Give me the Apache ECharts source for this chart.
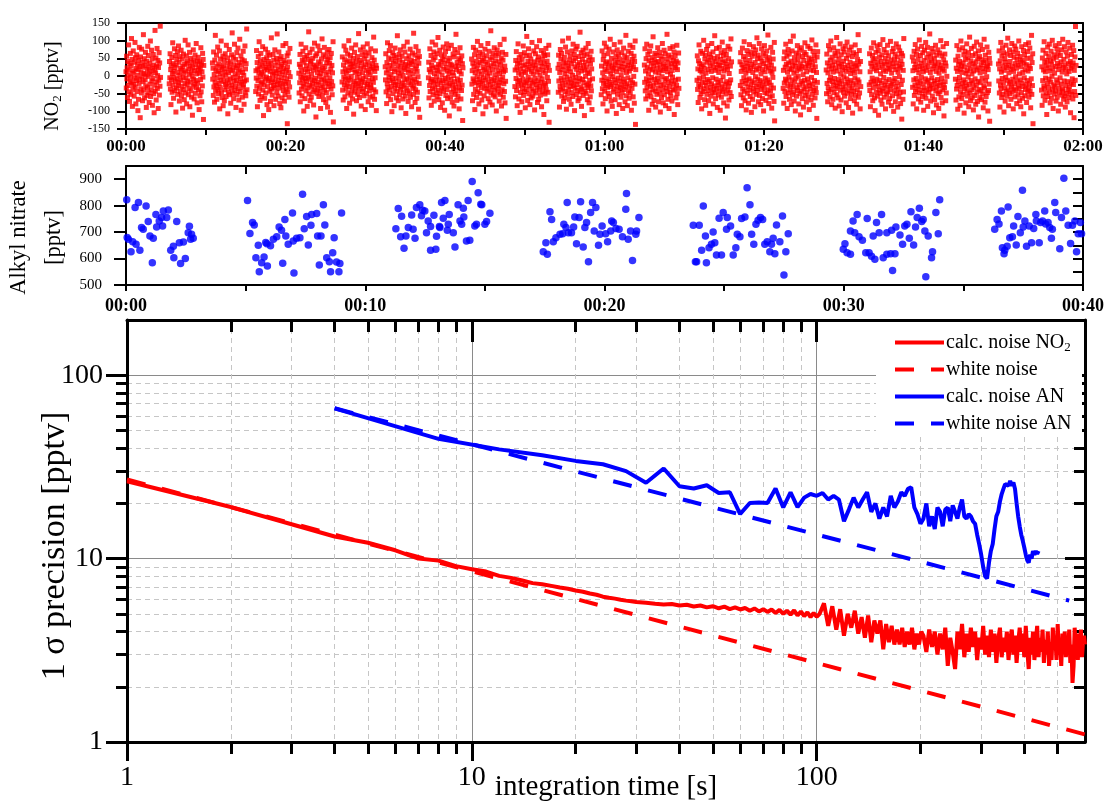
<!DOCTYPE html>
<html>
<head>
<meta charset="utf-8">
<script src="https://cdn.jsdelivr.net/npm/echarts@6/dist/echarts.min.js"></script>
<style>
  html, body { margin: 0; padding: 0; background: #fff; }
  #chart { width: 1107px; height: 803px; }
</style>
</head>
<body>
<div id="chart"></div>
<script>
// ---------- NO2 time series (bursts of 1-sigma noise around zero, minutes since 00:00) ----------
const no2BurstStart = [0, 5.42, 10.84, 16.26, 21.67, 27.09, 32.5, 37.92, 43.34, 48.76, 54.17,
  59.59, 65.0, 71.6, 77.0, 82.4, 87.8, 93.2, 98.6, 104.0, 109.4, 114.8];
const no2BurstLength = 4.33;
const no2Bursts = [
 [12,-34,56,-8,23,-61,41,3,-27,88,-45,17,-72,35,-15,64,-3,-52,29,106,-19,47,-86,8,-38,71,-24,14,-57,39,-6,95,-31,52,-79,21,-13,60,-44,2,33,-98,18,-66,45,-21,81,-9,27,-118,54,-36,11,-48,76,-2,38,-70,25,-16,117,-40,7,49,-62,30,-11,67,-28,4,-89,42,-55,19,-33,84,-1,58,-47,26,-75,13,36,-23,99,-58,6,-39,73,-14,48,-83,22,-7,61,-50,31,-104,16,-26,129,-43,9,51,-68,28,-17,78,-35,1,44,-92,24,-12,66,-54,37,-29,141,-4],
 [-22,41,-5,63,-37,18,-81,29,-11,52,-46,7,94,-26,35,-63,13,-3,77,-41,24,-15,58,-102,31,-34,46,-8,69,-52,10,-27,85,-19,39,-71,2,55,-44,22,-12,73,-57,16,-30,48,-91,27,-4,62,-38,9,-67,33,-21,101,-48,14,-6,57,-79,36,-25,43,-14,88,-53,20,-36,5,67,-87,28,-17,50,-42,11,-60,38,-1,-111,24,-29,74,-9,45,-65,15,-23,59,-49,32,-13,92,-33,6,-76,42,-20,17,53,-39,26,-95,8,40,-56,21,-10,80,-45,34,-73,12,-28,64,-3,47,-123,30],
 [37,-9,22,-55,68,-31,4,-74,45,-18,115,-42,16,-27,59,-66,28,-5,82,-38,13,-50,34,-21,71,-93,7,-33,48,-12,99,-47,25,-61,19,-2,56,-84,30,-16,44,-70,11,-39,63,-24,3,-58,87,-30,21,-11,51,-107,36,-45,9,-20,75,-53,26,-8,40,-77,15,-35,60,-26,122,-49,18,-4,53,-64,32,-15,90,-41,6,-29,47,-89,23,-13,66,-52,29,-1,79,-36,12,-68,38,-22,104,-44,17,-7,57,-97,31,-18,46,-60,10,-32,70,-25,2,-80,43,-14,85,-46,20,-56,35,-11,133,-39],
 [-44,15,-6,72,-29,38,-87,20,-13,55,-51,8,97,-35,26,-69,42,-2,64,-22,11,-58,31,-17,83,-40,5,-112,47,-25,19,-63,36,-9,76,-48,24,-3,52,-81,17,-30,66,-14,41,-95,28,-7,59,-43,13,-72,35,-19,108,-37,22,-54,4,-10,61,-27,45,-84,9,-33,74,-16,30,-66,14,-1,50,-46,119,-24,39,-57,18,-12,68,-34,7,-78,48,-21,27,-90,55,-5,33,-62,12,-28,86,-41,21,-15,44,-71,3,-53,37,-23,92,-38,16,-8,57,-135,25,-45,65,-18,10,-60,40,-31,78,-2],
 [8,-48,33,-19,61,-73,26,-4,90,-37,14,-56,45,-11,70,-29,2,-99,39,-23,53,-64,18,-7,80,-42,29,-15,58,-86,12,-34,47,-3,125,-51,21,-26,66,-70,35,-9,42,-60,5,-31,76,-20,50,-45,17,-82,31,-13,93,-39,24,-6,57,-116,28,-24,63,-49,10,-36,85,-17,40,-58,19,-1,72,-43,34,-92,7,-27,48,-12,105,-54,22,-32,60,-67,15,-8,81,-40,27,-20,54,-75,3,-47,38,-14,67,-88,46,-30,11,-62,75,-22,36,-5,52,-103,20,-37,64,-16,30,-53,9,-28,97,-130],
 [-17,54,-40,12,-68,31,-3,85,-25,46,-59,20,-9,73,-35,8,-92,39,-21,62,-48,15,-6,100,-30,43,-77,24,-12,58,-54,33,-1,79,-41,18,-65,36,-27,50,-108,27,-15,67,-46,10,-33,88,-20,41,-70,14,-4,55,-52,29,-23,120,-38,6,-61,44,-11,74,-28,21,-85,37,-16,60,-44,9,-7,82,-36,25,-56,48,-19,68,-95,32,-2,57,-49,16,-30,91,-24,40,-73,11,-13,65,-42,28,-60,4,-26,77,-33,19,-83,52,-8,35,-57,23,-18,110,-39,45,-66,13,-5,71,-45,30,-98,22],
 [26,-11,63,-45,9,-78,38,-22,94,-33,17,-56,51,-3,72,-40,30,-13,86,-67,4,-29,47,-101,21,-8,66,-50,35,-18,58,-84,12,-36,79,-24,42,-6,53,-62,19,-43,114,-27,31,-70,8,-15,61,-53,45,-1,74,-38,27,-90,14,-31,56,-20,39,-65,2,-47,84,-26,23,-11,68,-57,33,-106,18,-34,49,-8,96,-42,29,-72,10,-19,57,-48,37,-4,76,-60,16,-25,44,-87,32,-14,65,-35,6,-52,121,-28,41,-9,59,-75,20,-39,83,-17,28,-63,13,-46,50,-2,70,-94,36,-21,55,-117],
 [-5,39,-62,18,-27,77,-44,11,-15,58,-83,30,-9,96,-36,22,-53,45,-19,68,-71,7,-32,52,-14,88,-47,25,-2,63,-58,16,-24,109,-40,33,-67,12,-11,73,-50,28,-89,41,-20,60,-35,3,-76,47,-13,82,-43,19,-30,55,-97,36,-7,69,-55,24,-18,91,-39,14,-64,43,-4,78,-28,8,-113,50,-22,34,-60,21,-10,87,-46,31,-74,10,-25,62,-37,1,-85,54,-16,75,-52,26,-31,118,-42,17,-69,38,-8,66,-57,29,-21,49,-93,13,-34,80,-12,44,-65,6,-41,57,-26,35,-126,23],
 [48,-23,15,-70,36,-8,81,-52,27,-14,60,-95,9,-38,73,-19,42,-61,20,-2,98,-45,31,-26,55,-79,13,-10,67,-49,38,-17,86,-33,5,-68,44,-21,62,-107,24,-5,50,-56,18,-35,76,-12,39,-87,11,-28,57,-43,33,-1,92,-64,22,-16,70,-37,8,-74,46,-24,128,-48,29,-9,53,-82,17,-31,65,-54,35,-13,80,-40,3,-59,43,-20,58,-99,26,-6,74,-34,14,-46,63,-27,40,-71,7,-18,89,-52,32,-11,51,-85,19,-39,67,-3,45,-60,12,-22,104,-44,28,-76,16,-15,61,-120],
 [-30,17,-59,44,-7,69,-41,23,-84,35,-16,91,-27,8,-65,52,-12,38,-103,20,-47,61,-22,4,-73,47,-35,29,-9,85,-55,14,-25,66,-44,32,-90,10,-19,57,-38,112,-14,25,-69,41,-3,77,-50,19,-28,59,-81,34,-11,48,-62,13,-36,95,-21,28,-57,6,-43,71,-17,40,-96,22,-6,63,-48,31,-24,83,-34,11,-75,45,-13,54,-66,18,-40,100,-29,2,-54,37,-18,72,-87,27,-8,49,-45,15,-32,64,-109,36,-20,58,-51,9,-26,78,-39,24,-70,42,-4,60,-46,30,-15,87,-131,16],
 [22,-46,59,-14,33,-88,10,-29,75,-40,48,-6,64,-57,18,-21,99,-35,27,-72,40,-11,53,-62,6,-44,82,-25,37,-94,15,-3,68,-51,29,-17,107,-38,21,-66,45,-9,57,-30,12,-80,35,-20,71,-47,2,-58,90,-27,43,-13,61,-98,26,-34,50,-4,76,-53,19,-24,84,-41,32,-70,8,-15,55,-63,38,-7,124,-45,23,-31,66,-86,14,-37,47,-10,73,-55,30,-19,58,-112,17,-43,39,-1,79,-49,25,-26,62,-67,11,-33,92,-22,44,-76,7,-12,54,-59,34,-28,70,-42,20,-95,46,-8],
 [-53,28,-12,71,-36,9,-79,46,-21,58,-4,93,-43,19,-64,34,-27,82,-15,40,-99,13,-32,63,-49,25,-8,76,-58,37,-18,104,-30,6,-71,50,-24,29,-86,16,-2,68,-45,22,-37,89,-11,43,-67,31,-19,55,-106,12,-29,74,-52,38,-6,61,-40,20,-81,48,-14,96,-33,27,-60,3,-25,66,-47,35,-92,17,-9,79,-38,44,-17,57,-73,24,-31,115,-56,10,-22,52,-84,30,-5,70,-42,39,-63,14,-28,87,-48,21,-12,64,-97,33,-35,47,-19,81,-59,26,-1,56,-77,41,-23,99,-137,18],
 [31,-18,77,-42,14,-65,49,-8,90,-33,25,-56,61,-22,6,-97,43,-13,70,-47,20,-29,85,-59,36,-4,52,-80,17,-38,111,-25,29,-69,45,-10,64,-43,11,-88,38,-20,58,-52,23,-6,80,-35,41,-73,9,-16,67,-48,32,-102,19,-27,56,-61,47,-2,92,-39,15,-76,34,-24,73,-53,27,-11,63,-84,21,-34,48,-7,118,-44,12,-66,39,-19,59,-92,26,-30,78,-46,5,-57,53,-15,35,-71,16,-3,83,-40,44,-23,68,-109,30,-37,57,-12,24,-62,42,-26,87,-50,18,-81,37,-9,65,-35],
 [-12,57,-38,20,-75,43,-24,88,-6,35,-61,15,-30,70,-50,27,-93,11,-17,64,-44,32,-3,101,-36,22,-67,48,-19,59,-83,8,-27,75,-52,39,-10,86,-41,18,-70,45,-15,62,-106,29,-33,53,-57,13,-22,92,-46,37,-5,68,-79,25,-39,50,-28,114,-48,16,-64,41,-9,78,-35,23,-89,55,-18,33,-54,10,-26,81,-42,30,-97,47,-13,66,-60,21,-31,96,-45,38,-2,58,-76,14,-37,72,-23,43,-119,26,-51,61,-16,34,-85,19,-40,84,-29,49,-68,7,-20,76,-47,28,-11,105,-58,40],
 [40,-27,66,-53,13,-84,32,-16,79,-37,24,-62,55,-5,97,-43,19,-70,47,-21,8,-96,36,-12,72,-49,28,-31,61,-77,15,-8,89,-40,44,-58,22,-25,68,-103,33,-14,56,-66,10,-35,83,-45,26,-19,63,-87,38,-2,74,-52,17,-30,108,-41,49,-9,59,-73,21,-24,92,-55,30,-13,51,-81,6,-38,77,-28,42,-64,18,-17,64,-99,35,-33,86,-47,12,-6,57,-69,27,-22,71,-50,45,-11,116,-39,23,-78,52,-18,39,-60,14,-42,81,-26,31,-91,9,-56,67,-4,48,-34,20,-72,95,-127],
 [-35,16,-77,49,-20,68,-44,25,-9,90,-58,33,-14,56,-92,11,-28,75,-48,37,-3,62,-66,21,-39,98,-24,42,-81,18,-11,71,-53,30,-30,113,-45,8,-71,52,-17,38,-99,27,-6,65,-57,14,-33,86,-41,46,-1,59,-79,22,-26,73,-50,34,-110,19,-15,80,-43,28,-64,55,-21,4,-88,44,-36,67,-12,94,-55,24,-31,61,-74,12,-46,36,-8,84,-60,29,-19,51,-95,39,-27,78,-37,17,-68,47,-4,102,-52,31,-23,70,-83,15,-41,58,-13,43,-62,26,-34,88,-47,10,-120,54,-18,69],
 [17,-50,62,-21,37,-73,9,-33,86,-44,28,-12,74,-59,45,-4,99,-38,20,-81,53,-16,31,-66,11,-26,80,-47,40,-7,65,-91,23,-35,57,-19,109,-53,14,-29,70,-62,36,-10,48,-85,27,-22,91,-40,5,-68,60,-15,33,-101,18,-31,77,-46,42,-2,68,-57,24,-37,84,-23,13,-76,50,-8,96,-49,30,-18,59,-89,19,-42,73,-28,39,-64,7,-13,82,-51,25,-34,55,-105,16,-20,66,-43,35,-70,10,-5,88,-55,29,-25,61,-80,22,-39,47,-11,117,-60,34,-17,72,-48,12,-93,41,-30],
 [-25,63,-41,12,-87,36,-18,79,-53,27,-6,58,-70,44,-33,94,-14,20,-62,49,-98,31,-22,67,-46,15,-9,85,-57,38,-29,72,-111,24,-40,53,-13,89,-49,6,-68,41,-20,60,-80,29,-35,103,-43,17,-4,75,-60,34,-26,50,-93,13,-16,66,-51,40,-31,87,-45,22,-74,57,-10,32,-64,19,-39,98,-27,45,-84,8,-23,69,-56,35,-14,78,-100,26,-42,48,-7,62,-73,18,-30,91,-50,37,-19,54,-88,11,-37,82,-59,28,-2,71,-47,23,-78,43,-24,64,-122,33,-12,57,-66,16,-45,106],
 [54,-32,15,-79,42,-11,70,-55,24,-26,89,-44,33,-7,61,-93,18,-38,76,-19,47,-65,9,-29,102,-48,27,-15,58,-74,36,-3,84,-41,21,-58,66,-22,12,-97,44,-34,73,-51,30,-8,95,-63,16,-40,52,-17,81,-86,25,-12,63,-46,38,-28,119,-37,10,-71,56,-24,43,-5,78,-57,20,-35,68,-104,29,-14,49,-67,35,-21,87,-42,13,-82,59,-31,26,-10,74,-50,39,-92,8,-27,65,-45,22,-18,100,-61,31,-6,57,-76,19,-39,83,-25,46,-113,14,-33,62,-16,37,-70,28,-48,92,-1],
 [-9,45,-68,22,-37,86,-27,13,-94,56,-16,33,-59,74,-4,41,-83,19,-45,99,-31,28,-64,10,-22,80,-52,37,-11,60,-105,25,-36,70,-18,47,-76,8,-29,91,-43,15,-57,52,-3,66,-87,31,-24,110,-48,20,-70,43,-13,78,-39,6,-62,58,-20,35,-96,14,-33,84,-55,27,-8,63,-80,40,-26,96,-46,17,-72,49,-15,71,-116,23,-38,55,-61,9,-19,88,-42,32,-67,46,-6,75,-51,21,-90,38,-28,104,-34,12,-74,59,-14,44,-58,26,-2,82,-47,30,-99,18,-41,67,-23,50,-128,36],
 [34,-14,71,-48,20,-88,43,-26,95,-36,11,-61,57,-7,80,-52,29,-19,66,-102,16,-33,49,-71,39,-4,87,-44,24,-57,62,-12,107,-39,30,-84,9,-23,74,-50,41,-17,58,-66,19,-31,92,-45,27,-9,68,-93,13,-37,53,-22,85,-59,35,-2,76,-41,22,-78,47,-15,64,-54,31,-28,99,-35,6,-70,55,-11,40,-87,26,-47,83,-20,45,-63,10,-30,72,-107,37,-5,60,-56,18,-38,89,-25,32,-75,50,-13,69,-46,14,-34,94,-60,28,-21,79,-42,21,-90,51,-8,115,-52,38,-27,63,-135],
 [-40,26,-83,51,-13,73,-56,17,-28,97,-35,39,-69,12,-6,64,-48,30,-109,44,-21,82,-58,23,-33,55,-9,90,-46,14,-76,42,-17,70,-63,34,-1,101,-38,21,-92,48,-25,60,-51,8,-30,86,-43,27,-71,53,-11,77,-60,36,-19,65,-99,18,-34,92,-47,29,-5,58,-80,40,-23,74,-54,11,-37,104,-42,24,-66,47,-14,83,-57,32,-88,19,-27,68,-49,6,-73,56,-16,95,-39,35,-61,13,-31,79,-45,41,-104,22,-20,61,-52,28,-8,87,-65,37,-24,72,-118,16,-44,54,-12,140,-55,30]
];

// ---------- Alkyl nitrate time series [minutes, pptv] ----------
const anPoints = [
 [0.03,822],[0.05,680],[0.10,673],[0.21,626],[0.28,664],[0.38,793],[0.42,654],[0.52,812],[0.58,631],[0.65,717],[0.72,711],[0.84,799],[0.93,740],[1.0,685],[1.10,584],[1.14,677],[1.25,767],[1.28,719],[1.39,742],[1.49,755],[1.53,723],[1.56,780],[1.70,755],[1.77,784],[1.87,631],[1.98,647],[2.0,603],[2.12,740],[2.23,660],[2.28,581],[2.40,663],[2.48,600],[2.60,698],[2.65,722],[2.70,673],[2.74,692],[2.81,677],
 [5.08,820],[5.18,695],[5.29,736],[5.36,727],[5.43,603],[5.53,650],[5.57,550],[5.67,584],[5.77,606],[5.84,661],[5.89,656],[5.91,572],[6.04,648],[6.16,673],[6.30,682],[6.40,719],[6.50,707],[6.55,582],[6.64,748],[6.68,685],[6.78,654],[6.96,772],[6.99,666],[7.02,545],[7.13,677],[7.27,679],[7.38,843],[7.45,713],[7.55,759],[7.62,651],[7.73,726],[7.76,767],[7.97,770],[8.01,685],[8.08,576],[8.15,685],[8.25,803],[8.31,727],[8.39,603],[8.50,588],[8.55,550],[8.64,622],[8.70,679],[8.80,587],[8.90,550],[8.94,581],[9.01,772],
 [11.28,713],[11.38,789],[11.48,682],[11.52,760],[11.62,639],[11.70,685],[11.80,717],[11.94,765],[12.0,711],[12.08,677],[12.14,793],[12.28,803],[12.35,762],[12.40,783],[12.49,780],[12.56,698],[12.63,742],[12.73,721],[12.73,631],[12.87,764],[12.95,635],[12.98,684],[13.10,721],[13.12,717],[13.19,812],[13.26,752],[13.33,820],[13.43,707],[13.47,730],[13.51,767],[13.68,698],[13.75,644],[13.88,803],[13.96,742],[14.03,730],[14.10,790],[14.12,757],[14.23,666],[14.30,820],[14.37,669],[14.47,891],[14.58,723],[14.65,730],[14.72,849],[14.83,805],[14.87,803],[15.0,730],[15.07,740],[15.21,771],
 [17.44,626],[17.55,660],[17.61,616],[17.72,777],[17.79,748],[17.86,664],[17.97,679],[18.14,692],[18.25,694],[18.30,730],[18.39,717],[18.44,812],[18.49,698],[18.62,698],[18.71,719],[18.76,757],[18.83,656],[18.94,755],[19.00,815],[19.11,644],[19.18,717],[19.25,736],[19.33,588],[19.42,774],[19.50,812],[19.57,704],[19.64,793],[19.75,650],[19.81,692],[19.90,723],[20.05,694],[20.13,664],[20.26,704],[20.30,742],[20.37,736],[20.48,714],[20.61,711],[20.75,682],[20.89,786],[20.92,846],[20.99,673],[21.09,704],[21.17,593],[21.31,692],[21.34,704],[21.44,755],
 [23.71,726],[23.80,588],[23.85,588],[23.96,726],[24.06,631],[24.13,799],[24.22,685],[24.26,584],[24.37,641],[24.47,654],[24.54,700],[24.61,660],[24.68,613],[24.79,752],[24.89,613],[24.96,774],[25.10,711],[25.13,755],[25.27,723],[25.38,613],[25.49,641],[25.55,692],[25.66,682],[25.73,751],[25.87,757],[25.96,868],[26.08,803],[26.15,692],[26.24,654],[26.33,730],[26.42,745],[26.52,755],[26.61,748],[26.70,654],[26.80,664],[26.91,626],[26.98,654],[27.05,677],[27.12,618],[27.19,727],[27.33,664],[27.44,761],[27.50,538],[27.58,626],[27.68,694],
 [29.98,635],[30.05,656],[30.14,622],[30.28,616],[30.28,704],[30.39,742],[30.46,698],[30.56,767],[30.64,682],[30.78,669],[30.92,622],[30.98,751],[31.06,622],[31.16,609],[31.23,685],[31.30,597],[31.37,736],[31.48,698],[31.58,767],[31.65,603],[31.80,616],[31.80,698],[31.96,618],[32.0,707],[32.04,555],[32.14,618],[32.18,719],[32.35,689],[32.46,654],[32.55,723],[32.64,730],[32.74,677],[32.81,777],[32.92,651],[33.0,719],[33.07,755],[33.16,790],[33.26,740],[33.32,748],[33.39,704],[33.43,531],[33.53,685],[33.67,603],[33.71,626],[33.85,774],[33.95,694],[34.01,822],
 [36.31,711],[36.41,748],[36.49,731],[36.59,780],[36.63,641],[36.70,618],[36.73,631],[36.83,647],[36.87,795],[36.94,679],[37.05,682],[37.10,723],[37.21,651],[37.28,759],[37.38,698],[37.47,858],[37.50,719],[37.57,742],[37.64,647],[37.75,723],[37.85,660],[37.94,714],[38.03,767],[38.05,742],[38.17,660],[38.23,736],[38.31,742],[38.40,780],[38.44,731],[38.54,736],[38.61,717],[38.68,677],[38.72,711],[38.82,812],[38.86,774],[39.03,637],[39.10,755],[39.20,904],[39.28,780],[39.38,726],[39.48,657],[39.56,726],[39.66,742],[39.73,626],[39.80,694],[39.89,736],[39.94,694]
];

// ---------- 1-sigma precision vs. integration time ----------
// NO2: integration times in [first, last, step] seconds
const no2TauSegments = [[1, 30, 1], [32, 100, 2], [102, 201, 3], [204, 600, 4]];
const no2Sigma = [
 26.4,19.1,15.4,13.2,12.2,11.1,10.0,9.75,9.1,8.75,8.5,8.05,7.85,7.6,7.35,7.25,7.1,6.95,6.85,6.7,6.6,6.45,6.35,6.2,6.12,6.05,5.97,5.9,5.86,5.8,
 5.75,5.68,5.62,5.66,5.55,5.6,5.48,5.55,5.42,5.5,5.36,5.47,5.3,5.42,5.28,5.38,5.2,5.35,5.15,5.3,5.12,5.28,5.05,5.25,5.0,5.2,4.95,5.22,4.9,5.15,4.85,5.1,4.8,5.05,4.82,
 5.0,5.7,4.3,5.5,4.1,5.3,3.8,5.0,4.2,5.2,3.9,4.8,3.7,4.9,3.5,4.6,3.9,4.6,3.2,4.4,3.5,4.3,3.4,4.1,3.4,4.2,3.3,4.0,3.4,4.2,3.2,3.9,3.4,4.0,
 3.8,3.1,4.1,3.3,4.0,3.0,3.9,3.2,4.2,2.6,
 3.7,3.1,2.5,4.0,3.2,4.4,2.9,3.9,3.1,4.2,
 3.3,4.0,2.8,3.7,3.2,4.3,3.0,3.8,2.9,4.1,
 3.1,3.9,2.7,3.6,4.2,2.9,3.7,3.1,4.0,2.8,
 3.6,4.1,3.0,3.8,2.7,3.5,4.2,3.1,3.9,2.9,
 4.3,3.2,2.5,3.7,3.0,4.0,2.8,3.6,4.3,2.9,
 3.7,3.1,4.1,2.7,3.6,3.0,4.0,2.6,3.5,2.8,
 4.2,3.2,3.8,2.8,4.4,3.0,3.6,2.6,3.9,3.1,
 4.0,2.9,3.5,3.1,4.1,2.7,3.4,2.1,2.6,4.2,
 3.2,3.9,2.8,3.7,3.0,4.1,2.9,3.5,3.8,3.4
];
// Alkyl nitrate: integration time steps of 4 s, from 4 s to 440 s
const anTauStep = 4;
const anSigma = [
 66.0,45.0,39.4,36.6,34.1,32.7,30.0,25.9,31.0,24.8,24.1,25.1,22.8,23.0,17.5,20.1,20.2,20.1,24.1,19.0,23.0,19.1,
 21.5,22.5,22.0,22.8,21.0,22.0,21.0,16.0,18.5,21.5,
 19.0,21.0,23.0,18.0,20.0,16.5,19.0,17.0,22.0,19.0,
 20.5,23.0,22.0,24.0,24.5,19.0,17.5,15.5,16.5,20.0,
 15.0,17.0,14.5,19.0,18.0,15.0,18.5,19.0,16.0,19.5,
 18.0,16.5,19.0,21.0,17.0,16.5,17.5,17.0,16.0,15.5,
 13.5,12.0,10.5,9.0,8.0,7.8,9.5,11.0,12.0,14.5,
 17.0,18.0,20.5,22.5,24.0,25.5,26.0,25.0,26.5,25.0,
 26.0,24.0,20.0,17.0,15.0,13.5,12.5,11.5,10.5,9.8,
 9.5,10.5,10.0,11.0,10.5,11.0,10.6,11.0
];
// white-noise reference lines (sigma ~ 1/sqrt(tau)), end points
const no2WhiteNoise = [[1, 27.0], [600, 1.10]];
const anWhiteNoise = [[4, 66.0], [540, 5.9]];

// axis tick positions
const timeLabelsTop = [0, 20, 40, 60, 80, 100, 120];
const timeLabelsMid = [0, 10, 20, 30, 40];
const anTicks = [500, 600, 700, 800, 900];
const tauMajor = [1, 10, 100];
const tauMinor = [2, 3, 4, 5, 6, 7, 8, 9, 20, 30, 40, 50, 60, 70, 80, 90, 200, 300, 400, 500];
const sigmaMajor = [1, 10, 100];
const sigmaMinor = [2, 3, 4, 5, 6, 7, 8, 9, 20, 30, 40, 50, 60, 70, 80, 90];

// ---------- build series data ----------
const no2Points = [];
no2Bursts.forEach((vals, b) => {
  const step = no2BurstLength / (vals.length - 1);
  vals.forEach((v, i) => no2Points.push([no2BurstStart[b] + i * step, v]));
});
const no2Tau = [];
no2TauSegments.forEach(([a, z, s]) => { for (let t = a; t <= z; t += s) no2Tau.push(t); });
const no2Deviation = no2Sigma.map((s, i) => [no2Tau[i], s]);
const anDeviation = anSigma.map((s, i) => [(i + 1) * anTauStep, s]);

const FONT = 'Liberation Serif';
const BLACK = '#000';
const hhmm = v => String(Math.floor(v / 60)).padStart(2, '0') + ':' + String(Math.round(v % 60)).padStart(2, '0');

function timeAxis(grid, max, interval, labels, bottom) {
  return {
    gridIndex: grid, type: 'value', min: 0, max: max, interval: interval,
    position: bottom ? 'bottom' : 'top',
    axisLine: { onZero: false, lineStyle: { color: BLACK, width: 2 } },
    axisTick: { inside: !bottom, length: bottom ? 6 : 8, lineStyle: { color: BLACK, width: 2 } },
    axisLabel: bottom ? { customValues: labels, formatter: hhmm, margin: grid === 0 ? 9 : 12,
      fontFamily: FONT, fontSize: grid === 0 ? 17 : 18, fontWeight: 'bold', color: BLACK } : { show: false },
    splitLine: { show: false }
  };
}
function logAxis(dim, opt) {
  const base = {
    gridIndex: 2, type: 'log', logBase: 10,
    min: 1, max: dim === 'x' ? 600 : 200,
    position: opt.position,
    axisLine: { show: !!opt.line, onZero: false, lineStyle: { color: BLACK, width: 3 } },
    axisTick: { customValues: opt.ticks, inside: !!opt.inside, length: opt.len, lineStyle: { color: BLACK, width: 3 } },
    axisLabel: opt.labels ? { customValues: opt.labels, margin: dim === 'x' ? 22 : 24,
      fontFamily: FONT, fontSize: 28, color: BLACK } : { show: false },
    splitLine: opt.split ? { show: true, lineStyle: opt.split } : { show: false }
  };
  return Object.assign(base, opt.extra || {});
}
const majorGrid = { color: '#8a8a8a', width: 1 };
const minorGrid = { color: '#c6c6c6', width: 1, type: [5, 4] };

const chart = echarts.init(document.getElementById('chart'), null, { renderer: 'canvas' });
chart.setOption({
  animation: false,
  backgroundColor: '#fff',
  grid: [
    { left: 126, right: 24, top: 23, height: 106, outerBoundsMode: 'none' },
    { left: 126, right: 24, top: 166, height: 119, outerBoundsMode: 'none' },
    { left: 127, right: 22, top: 320, height: 422, outerBoundsMode: 'none' }
  ],
  graphic: [
    { type: 'rect', z: 5, shape: { x: 876, y: 322, width: 206, height: 111 }, style: { fill: '#fff' } }
  ],
  legend: {
    z: 6, orient: 'vertical', left: 876, top: 331, padding: [0, 0, 0, 17],
    itemWidth: 49, itemHeight: 14, itemGap: 4, selectedMode: false,
    data: ['calc. noise NO2', 'white noise', 'calc. noise AN', 'white noise AN'],
    formatter: n => n === 'calc. noise NO2' ? 'calc. noise NO{sub|2}' : n,
    itemStyle: { opacity: 0 },
    lineStyle: { width: 4 },
    textStyle: {
      fontFamily: FONT, fontSize: 20, color: BLACK, lineHeight: 23, padding: [0, 0, 0, -3],
      rich: { sub: { fontFamily: FONT, fontSize: 13, color: BLACK, verticalAlign: 'bottom', lineHeight: 13 } }
    }
  },
  xAxis: [
    timeAxis(0, 120, 10, timeLabelsTop, true),
    timeAxis(0, 120, 10, null, false),
    timeAxis(1, 40, 5, timeLabelsMid, true),
    timeAxis(1, 40, 5, null, false),
    logAxis('x', { position: 'bottom', line: true, ticks: tauMajor, len: 19, labels: tauMajor, split: majorGrid,
      extra: { name: 'integration time [s]', nameLocation: 'middle', nameGap: 31, nameMoveOverlap: false,
        nameTextStyle: { fontFamily: FONT, fontSize: 29, color: BLACK } } }),
    logAxis('x', { position: 'bottom', ticks: tauMinor, len: 12, split: minorGrid }),
    logAxis('x', { position: 'top', line: true, ticks: [10, 100], len: 22, inside: true }),
    logAxis('x', { position: 'top', ticks: tauMinor, len: 12, inside: true })
  ],
  yAxis: [
    {
      gridIndex: 0, type: 'value', min: -150, max: 150, interval: 50, position: 'left',
      axisLine: { onZero: false, lineStyle: { color: BLACK, width: 2 } },
      axisTick: { length: 9, lineStyle: { color: BLACK, width: 2 } },
      axisLabel: { margin: 16, fontFamily: FONT, fontSize: 12, color: BLACK },
      splitLine: { show: false },
      name: 'NO{s|2} [pptv]', nameLocation: 'middle', nameRotate: 90, nameGap: 62, nameMoveOverlap: false,
      nameTextStyle: { fontFamily: FONT, fontSize: 20, color: BLACK, lineHeight: 22, padding: [0, 20, 0, 0],
        rich: { s: { fontFamily: FONT, fontSize: 13, color: BLACK, verticalAlign: 'bottom', lineHeight: 12 } } }
    },
    {
      gridIndex: 0, type: 'value', min: -150, max: 150, interval: 25, position: 'right',
      axisLine: { onZero: false, lineStyle: { color: BLACK, width: 2 } },
      axisTick: { inside: true, length: 5, lineStyle: { color: BLACK, width: 2 } },
      axisLabel: { show: false }, splitLine: { show: false }
    },
    {
      gridIndex: 1, type: 'value', min: 500, max: 950, interval: 50, position: 'left',
      axisLine: { onZero: false, lineStyle: { color: BLACK, width: 2 } },
      axisTick: { customValues: anTicks, length: 12, lineStyle: { color: BLACK, width: 2 } },
      axisLabel: { customValues: anTicks, margin: 24, fontFamily: FONT, fontSize: 15, color: BLACK },
      splitLine: { show: false },
      name: 'Alkyl nitrate\n[pptv]', nameLocation: 'middle', nameRotate: 90, nameGap: 54, nameMoveOverlap: false,
      nameTextStyle: { fontFamily: FONT, fontSize: 22.5, color: BLACK, lineHeight: 35, padding: [0, 24, 0, 0] }
    },
    {
      gridIndex: 1, type: 'value', min: 500, max: 950, interval: 50, position: 'right',
      axisLine: { onZero: false, lineStyle: { color: BLACK, width: 2 } },
      axisTick: { inside: true, length: 10, lineStyle: { color: BLACK, width: 2 } },
      axisLabel: { show: false }, splitLine: { show: false }
    },
    logAxis('y', { position: 'left', line: true, ticks: sigmaMajor, len: 21, labels: sigmaMajor, split: majorGrid,
      extra: { name: '1 σ precision [pptv]', nameLocation: 'middle', nameRotate: 90, nameGap: 55, nameMoveOverlap: false,
        nameTextStyle: { fontFamily: FONT, fontSize: 34, color: BLACK, padding: [0, 30, 0, 0] } } }),
    logAxis('y', { position: 'left', ticks: sigmaMinor, len: 11, split: minorGrid }),
    logAxis('y', { position: 'right', line: true, ticks: [10, 100], len: 20, inside: true }),
    logAxis('y', { position: 'right', ticks: sigmaMinor, len: 11, inside: true })
  ],
  series: [
    { type: 'scatter', xAxisIndex: 0, yAxisIndex: 0, data: no2Points, symbol: 'rect', symbolSize: 5,
      itemStyle: { color: '#ff0000' }, silent: true },
    { type: 'scatter', xAxisIndex: 2, yAxisIndex: 2, data: anPoints, symbol: 'circle', symbolSize: 7.5,
      itemStyle: { color: '#0000ff' }, silent: true },
    { name: 'white noise', type: 'line', xAxisIndex: 4, yAxisIndex: 4, data: no2WhiteNoise, symbol: 'none',
      itemStyle: { color: '#ff0000' }, lineStyle: { color: '#ff0000', width: 4, type: [19, 17] } },
    { name: 'white noise AN', type: 'line', xAxisIndex: 4, yAxisIndex: 4, data: anWhiteNoise, symbol: 'none',
      itemStyle: { color: '#0000ff' }, lineStyle: { color: '#0000ff', width: 4, type: [19, 17] } },
    { name: 'calc. noise NO2', type: 'line', xAxisIndex: 4, yAxisIndex: 4, data: no2Deviation, symbol: 'none',
      itemStyle: { color: '#ff0000' }, lineStyle: { color: '#ff0000', width: 4 } },
    { name: 'calc. noise AN', type: 'line', xAxisIndex: 4, yAxisIndex: 4, data: anDeviation, symbol: 'none',
      itemStyle: { color: '#0000ff' }, lineStyle: { color: '#0000ff', width: 4 } }
  ]
});
</script>
</body>
</html>
